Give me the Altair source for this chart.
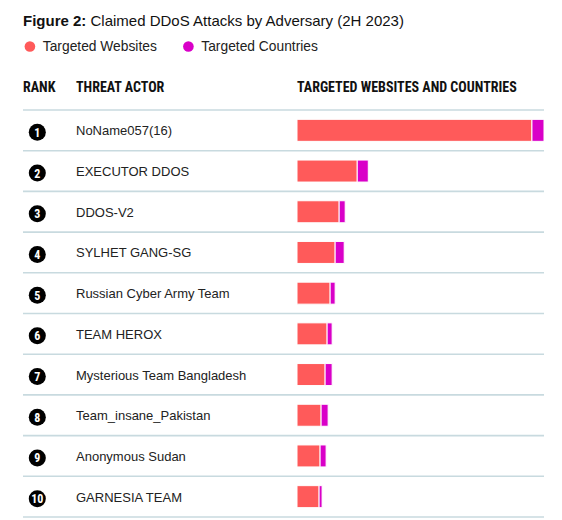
import altair as alt
import pandas as pd

# ---- data ----
ranks = [1, 2, 3, 4, 5, 6, 7, 8, 9, 10]
actors = [
    "NoName057(16)", "EXECUTOR DDOS", "DDOS-V2", "SYLHET GANG-SG",
    "Russian Cyber Army Team", "TEAM HEROX", "Mysterious Team Bangladesh",
    "Team_insane_Pakistan", "Anonymous Sudan", "GARNESIA TEAM",
]
websites = [234, 60, 42, 38, 33, 30, 28, 24, 23, 22]
countries = [12, 11, 6, 9, 5, 5, 7, 7, 6, 3]
series = ["Targeted Websites", "Targeted Countries"]
colors = ["#FF5A5A", "#D900C8"]
title_bold = "Figure 2:"
title_rest = "Claimed DDoS Attacks by Adversary (2H 2023)"
headers = ["RANK", "THREAT ACTOR", "TARGETED WEBSITES AND COUNTRIES"]

base_df = pd.DataFrame({"rank": ranks, "actor": actors})
long_df = pd.concat([
    pd.DataFrame({"actor": actors, "series": series[0], "value": websites, "ord": 0}),
    pd.DataFrame({"actor": actors, "series": series[1], "value": countries, "ord": 1}),
])

SANS = "Liberation Sans, Arial, sans-serif"
COND = "Roboto Condensed, Open Sans Condensed, sans-serif"
W, H = 521, 407

yband = alt.Y("actor:N", sort=actors, axis=None,
              scale=alt.Scale(paddingInner=0, paddingOuter=0))

bars = alt.Chart(long_df).mark_bar(height=22, stroke="white", strokeWidth=1).encode(
    y=yband,
    x=alt.X("sum(value):Q", axis=None, stack="zero",
            scale=alt.Scale(domain=[0, 246], range=[274, W])),
    color=alt.Color("series:N", sort=series,
                    scale=alt.Scale(domain=series, range=colors),
                    legend=alt.Legend(orient="none", legendX=0, legendY=-70.5,
                                      direction="horizontal", title=None,
                                      symbolType="circle", symbolSize=113,
                                      symbolStrokeWidth=0, labelFontSize=13.8,
                                      labelFont=SANS, labelColor="#222",
                                      labelOffset=6, columnPadding=24.5, padding=0)),
    order=alt.Order("ord:Q"),
)

rules = alt.Chart(base_df).mark_rule(color="#C8DADF", strokeWidth=1.6).encode(
    y=alt.Y("actor:N", sort=actors, axis=None, bandPosition=0),
    x=alt.value(0), x2=alt.value(W),
)
bottom_rule = alt.Chart(base_df.head(1)).mark_rule(color="#C8DADF", strokeWidth=1.6).encode(
    y=alt.value(H), x=alt.value(0), x2=alt.value(W),
)

circles = alt.Chart(base_df).mark_circle(size=290, color="#000000", opacity=1, yOffset=2).encode(
    y=yband, x=alt.value(14.3),
)
rank_text = alt.Chart(base_df).mark_text(
    color="white", font=COND, fontWeight="bold", fontSize=12,
    align="center", baseline="middle", dy=2.5,
).encode(y=yband, x=alt.value(14.3), text="rank:N")

actor_text = alt.Chart(base_df).mark_text(
    color="#222222", font=SANS, fontSize=13, align="left", baseline="middle", dy=1,
).encode(y=yband, x=alt.value(53), text="actor:N")


def label(txt, x, y, **kw):
    return alt.Chart(pd.DataFrame({"t": [txt]})).mark_text(
        align="left", **kw
    ).encode(x=alt.value(x), y=alt.value(y), text="t:N")


hdr_kw = dict(font=COND, fontWeight="bold", fontSize=14, color="#111111", baseline="middle")
hdrs = (label(headers[0], 0, -22.5, **hdr_kw)
        + label(headers[1], 53, -22.5, **hdr_kw)
        + label(headers[2], 274, -22.5, **hdr_kw))

title = (label(title_bold, 0, -84.5, font=SANS, fontWeight="bold", fontSize=15,
               color="#111111", baseline="alphabetic")
         + label(title_rest, 67.5, -84.5, font=SANS, fontSize=15,
                 color="#111111", baseline="alphabetic"))

chart = alt.layer(
    rules, bottom_rule, bars, circles, rank_text, actor_text, hdrs, title
).properties(
    width=W, height=H,
    padding={"left": 15, "top": 102, "right": 10, "bottom": 3},
    autosize=alt.AutoSizeParams(type="none"),
).configure_view(stroke="transparent")

chart.save("out.html", embed_options={"renderer": "svg", "actions": False})
